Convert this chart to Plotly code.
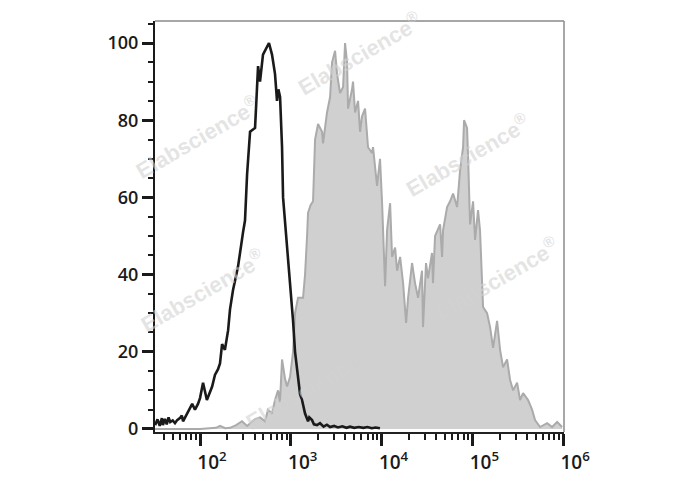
import plotly.graph_objects as go

# ---- data (fluorescence intensity, % of max) ----
control_x = [32, 34, 36, 38, 39, 41, 43, 45, 47, 50, 53, 56, 60, 63, 65, 72, 78, 82, 88, 95,
             100, 108, 119, 128, 136, 146, 158, 166, 175, 188, 204, 214, 231, 262, 276, 298, 313,
             330, 356, 404, 436, 458, 494, 547, 575, 621, 670, 705, 730, 762, 801, 822, 865, 933,
             982, 1059, 1114, 1202, 1265, 1330, 1436, 1549, 1600, 1714, 1800, 1945, 2100, 2300,
             2500, 2710, 3000, 3300, 3700, 4100, 4500, 5000, 5600, 6300, 7000, 7800, 8600, 9600]
control_y = [1, 2.5, 0.8, 2.8, 1, 2.6, 1.2, 3, 1.8, 2.2, 1.5, 2.3, 2.8, 3.5, 2, 4, 5.5, 6.5, 5, 6.5,
             8, 12, 7.5, 9.5, 11, 14, 15.5, 17, 22, 20.5, 25.6, 31, 36, 42, 46, 51, 54,
             66, 77, 78, 94, 90, 97, 99, 100, 97, 92, 85, 88, 86, 73, 60, 54, 44,
             37, 28, 20, 13, 9, 7.5, 4, 2, 3, 2.3, 1.2, 1, 1.5, 0.6,
             1.1, 0.5, 0.8, 0.4, 0.7, 0.3, 0.6, 0.3, 0.5, 0.3, 0.5, 0.2, 0.4, 0.2]

stained_x = [32, 100, 150, 166, 190, 214, 250, 290, 330, 400, 458, 520, 561, 620, 670, 724, 760,
             801, 865, 910, 982, 1059, 1114, 1173, 1202, 1365, 1436, 1511, 1549, 1650, 1759, 1851,
             1997, 2209, 2265, 2507, 2710, 2849, 3075, 3233, 3490, 3768, 3963, 4167, 4274, 4730,
             4850, 5105, 5510, 5795, 6094, 6578, 6918, 7095, 7854, 8054, 8917, 9620, 10140, 10940,
             11500, 12420, 13060, 14100, 14830, 16010, 17270, 18640, 19600, 21680, 23390, 25240,
             27920, 28630, 30900, 32500, 35950, 36870, 38870, 44130, 46420, 47610, 52720, 56880,
             61380, 67920, 73290, 79080, 81100, 87500, 89800, 94430, 101900, 107200, 115600,
             121600, 131300, 145400, 156900, 169300, 187400, 202200, 218200, 241500, 260600,
             281200, 311200, 335800, 362300, 411300, 455200, 491100, 558000, 666800, 757200,
             859400, 975600]
stained_y = [0, 0, 0.3, 0.8, 0.2, 0.3, 1, 2, 0.8, 2.5, 3, 2, 5, 4, 7.5, 10, 7,
             18, 13, 11, 13.5, 20, 30, 33, 34, 34, 40, 50, 56, 58, 59, 75,
             79, 77, 74, 82, 86, 95, 98, 92, 87, 88.6, 100, 95, 83, 88,
             90, 82, 85, 77, 81, 83, 76, 73, 71.5, 73, 63, 70, 58.5, 37,
             51.5, 58.5, 44.6, 47, 41, 44.6, 37.8, 27.5, 34, 43, 37.8, 34,
             41, 26.4, 43, 39, 45.6, 37.8, 50, 53, 44.6, 51.5, 57.5, 59,
             61, 57.5, 67, 73, 80, 78, 70.5, 53, 59, 49, 56.7,
             51.5, 31.6, 30, 26.4, 21, 28, 20.5, 16, 18, 12.7,
             10, 12, 7.5, 9.3, 7.5, 5, 2.3, 0.5, 1.5, 0.5,
             1.8, 0.5]

y_ticks = [0, 20, 40, 60, 80, 100]
x_ticks = [100, 1000, 10000, 100000, 1000000]
x_ticktext = ["10<sup>2</sup>", "10<sup>3</sup>", "10<sup>4</sup>", "10<sup>5</sup>", "10<sup>6</sup>"]
x_minor = [m * d for d in [10, 100, 1000, 10000, 100000] for m in range(2, 10) if m * d > 31]

watermark_pos = [(0.501, 0.922), (0.103, 0.717), (0.763, 0.674), (0.117, 0.345),
                 (0.836, 0.375), (0.372, 0.107)]

fig = go.Figure()
fig.add_trace(go.Scatter(x=stained_x, y=stained_y, mode="lines", fill="tozeroy",
                         fillcolor="#d0d0d0", line=dict(color="#ababab", width=2),
                         showlegend=False, hoverinfo="skip"))
fig.add_trace(go.Scatter(x=control_x, y=control_y, mode="lines",
                         line=dict(color="#1a1a1a", width=2.6),
                         showlegend=False, hoverinfo="skip"))

font_family = "Open Sans, Liberation Sans, sans-serif"

# page body has an 8px margin, so margins are reduced by 8 on the left/top
fig.update_layout(
    width=688, height=490,
    margin=dict(l=147, r=132, t=13, b=66),
    paper_bgcolor="white", plot_bgcolor="white",
    font=dict(family=font_family, size=18, color="#1a1a1a", weight=600),
    xaxis=dict(type="log", range=[1.504, 6.01], showgrid=False, zeroline=False,
               showline=True, linecolor="#222", linewidth=1.5,
               tickmode="array", tickvals=x_ticks, ticktext=x_ticktext,
               ticks="outside", ticklen=12, tickwidth=3, tickcolor="#1a1a1a",
               ticklabelshift=12,
               minor=dict(tickmode="array", tickvals=x_minor, ticks="outside",
                          ticklen=6, tickwidth=2, tickcolor="#1a1a1a"),
               tickfont=dict(size=19, weight=600)),
    yaxis=dict(range=[-0.78, 105.7], showgrid=False, zeroline=False,
               showline=True, linecolor="#1a1a1a", linewidth=2,
               tickmode="array", tickvals=y_ticks,
               ticks="outside", ticklen=11, tickwidth=2.5, tickcolor="#1a1a1a",
               minor=dict(dtick=5, ticks="outside", ticklen=5, tickwidth=2,
                          tickcolor="#1a1a1a"),
               tickfont=dict(size=18, weight=600)),
)

# frame top/right
fig.add_shape(type="line", xref="paper", yref="paper", x0=0, x1=1, y0=1, y1=1,
              line=dict(color="#8a8a8a", width=1.5))
fig.add_shape(type="line", xref="paper", yref="paper", x0=1, x1=1, y0=0, y1=1,
              line=dict(color="#8a8a8a", width=1.5))

for (wx, wy) in watermark_pos:
    fig.add_annotation(x=wx, y=wy, xref="paper", yref="paper", text="Elabscience<sup>®</sup>",
                       showarrow=False, textangle=-30, xanchor="center", yanchor="middle",
                       font=dict(family="Liberation Sans, Arial, sans-serif", size=22,
                                 color="rgba(210,210,210,0.6)", weight="bold"))

fig.write_html("out.html")
